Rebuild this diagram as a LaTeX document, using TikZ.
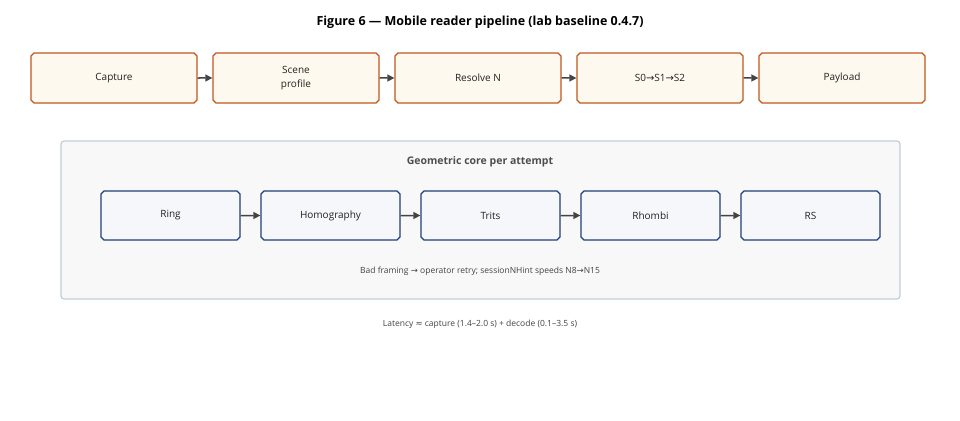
\documentclass[tikz,border=0pt]{standalone}
\usepackage{fontspec}
\setmainfont{Open Sans}
\newfontfamily\dv{DejaVu Sans}
\usetikzlibrary{shapes.misc,arrows.meta}
\definecolor{obord}{HTML}{C0561E}
\definecolor{ofill}{HTML}{FEF9EE}
\definecolor{bbord}{HTML}{1F3F74}
\definecolor{bfill}{HTML}{F6F7FB}
\definecolor{cbord}{HTML}{C3CDD8}
\definecolor{cfill}{HTML}{F8F8F8}
\definecolor{arr}{HTML}{444444}
\definecolor{txt}{HTML}{222222}
\begin{document}
\begin{tikzpicture}[x=1pt,y=-1pt,
 box/.style={chamfered rectangle,chamfered rectangle xsep=1.5pt,chamfered rectangle ysep=1.5pt,chamfered rectangle corners={north west,north east,south west,south east},draw,line width=1.3pt,inner sep=0pt,font=\fontsize{10}{14}\selectfont,text=txt,align=center},
 obox/.style={box,draw=obord,fill=ofill,minimum width=166pt,minimum height=50pt},
 bbox/.style={box,draw=bbord,fill=bfill,minimum width=139pt,minimum height=49pt},
 ar/.style={-{Triangle[length=7pt,width=7pt]},line width=1.5pt,draw=arr}]
\useasboundingbox (0,0) rectangle (960,420);
\node[font=\bfseries\fontsize{12.5}{15}\selectfont] (title) at (480,22) {Figure 6 — Mobile reader pipeline (lab baseline 0.4.7)};
\node[obox] (a1) at (114,78) {Capture};
\node[obox] (a2) at (296,78) {Scene\\profile};
\node[obox] (a3) at (478,78) {Resolve N};
\node[obox] (a4) at (660,78) {S0{\dv→}S1{\dv→}S2};
\node[obox] (a5) at (842,78) {Payload};
\foreach \i/\j in {a1/a2,a2/a3,a3/a4,a4/a5} \draw[ar] (\i) -- (\j);
\node[draw=cbord,fill=cfill,rounded corners=3pt,line width=1.2pt,minimum width=839pt,minimum height=158pt] (core) at (480.5,220) {};
\node[font=\bfseries\fontsize{10.5}{12}\selectfont,text=txt!80] (ct) at (480,162) {Geometric core per attempt};
\node[bbox] (b1) at (170.5,215.5) {Ring};
\node[bbox] (b2) at (330.5,215.5) {Homography};
\node[bbox] (b3) at (490.5,215.5) {Trits};
\node[bbox] (b4) at (650.5,215.5) {Rhombi};
\node[bbox] (b5) at (810.5,215.5) {RS};
\foreach \i/\j in {b1/b2,b2/b3,b3/b4,b4/b5} \draw[ar] (\i) -- (\j);
\node[font=\fontsize{8.5}{10}\selectfont,text=txt!85] (note) at (480,271) {Bad framing {\dv→} operator retry; sessionNHint speeds N8{\dv→}N15};
\node[font=\fontsize{8.5}{10}\selectfont,text=txt!85] (lat) at (480,324) {Latency {\dv≈} capture (1.4–2.0 s) + decode (0.1–3.5 s)};
\end{tikzpicture}
\end{document}
